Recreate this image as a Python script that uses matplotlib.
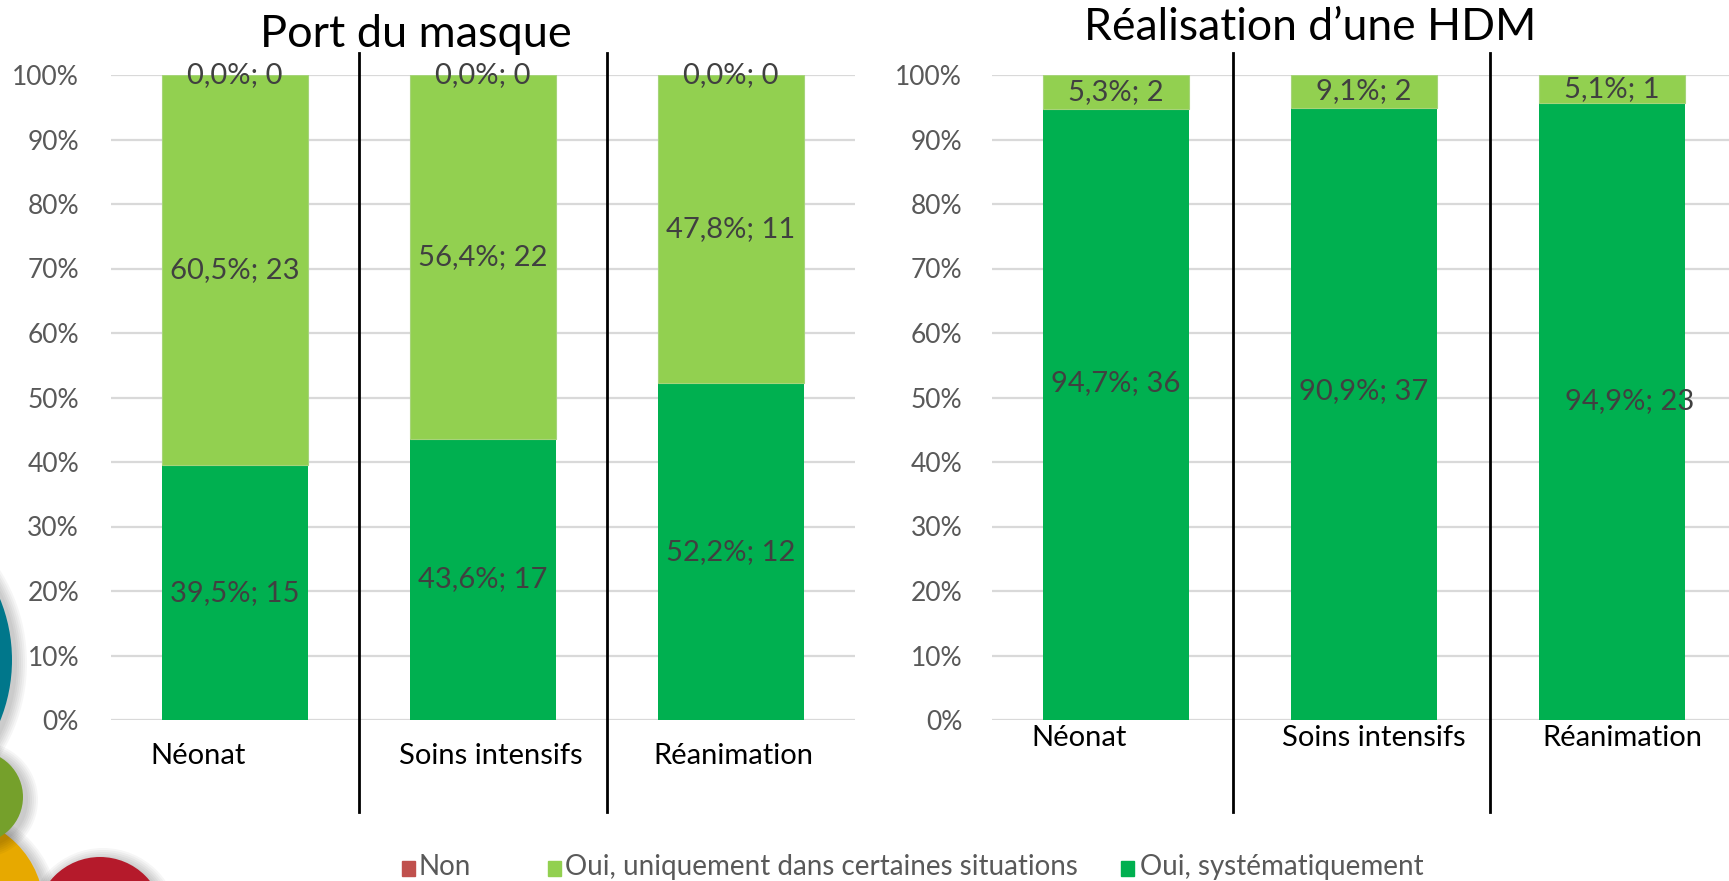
import matplotlib
matplotlib.use('Agg')
import matplotlib.pyplot as plt
from matplotlib.patches import Circle, Rectangle
import numpy as np

plt.rcParams['font.family'] = ['Lato', 'DejaVu Sans']

# ---------------- data ----------------
categories = ['Néonat', 'Soins intensifs', 'Réanimation']
series_names = ['Non', 'Oui, uniquement dans certaines situations', 'Oui, systématiquement']
series_colors = ['#C0504D', '#92D050', '#00B050']
yticks = [0, 0.1, 0.2, 0.3, 0.4, 0.5, 0.6, 0.7, 0.8, 0.9, 1.0]
ytick_labels = ['0%', '10%', '20%', '30%', '40%', '50%', '60%', '70%', '80%', '90%', '100%']

title_masque = 'Port du masque'
masque_syst = [0.395, 0.436, 0.522]
masque_situations = [0.605, 0.564, 0.478]
masque_non = [0.0, 0.0, 0.0]
masque_lbl_syst = ['39,5%; 15', '43,6%; 17', '52,2%; 12']
masque_lbl_situations = ['60,5%; 23', '56,4%; 22', '47,8%; 11']
masque_lbl_non = ['0,0%; 0', '0,0%; 0', '0,0%; 0']

title_hdm = 'Réalisation d’une HDM'
hdm_syst = [0.947, 0.949, 0.957]
hdm_situations = [0.053, 0.051, 0.043]
hdm_non = [0.0, 0.0, 0.0]
hdm_lbl_syst = ['94,7%; 36', '90,9%; 37', '94,9%; 23']
hdm_lbl_situations = ['5,3%; 2', '9,1%; 2', '5,1%; 1']

# label placement (manual positions as in the original slide)
hdm_lbl_syst_y = [0.522, 0.510, 0.495]
hdm_lbl_syst_dx = [0.0, 0.0, 0.073]
masque_cat_dx = [-0.15, 0.03, 0.01]
hdm_cat_dx = [-0.15, 0.04, 0.04]
masque_separators = [0.5, 1.5]
hdm_separators = [0.472, 1.508]

# ---------------- figure ----------------
W, H = 1729, 881
fig = plt.figure(figsize=(W / 100, H / 100), dpi=100)
fig.patch.set_facecolor('white')


def px_axes(x0, y0, x1, y1):
    return fig.add_axes([x0 / W, 1 - y1 / H, (x1 - x0) / W, (y1 - y0) / H])


LABEL_COLOR = '#404040'
TICK_COLOR = '#595959'
LBL_FS = 21
CAT_FS = 21
BAR_W = 0.59


def setup(ax, pad, seps):
    ax.set_facecolor('none')
    ax.set_xlim(-0.5, 2.5)
    ax.set_ylim(0, 1)
    ax.set_yticks(yticks)
    ax.set_yticklabels(ytick_labels)
    ax.set_xticks([])
    ax.tick_params(axis='y', length=0, pad=pad, labelsize=19, labelcolor=TICK_COLOR)
    for s in ax.spines.values():
        s.set_visible(False)
    ax.yaxis.grid(True, color='#D9D9D9', lw=1.6)
    ax.set_axisbelow(True)
    for xs in seps:
        ax.axvline(xs, ymin=-0.143, ymax=1.034, color='black', lw=2, clip_on=False, zorder=5)


x = np.arange(len(categories))

# ---- left chart: Port du masque ----
ax1 = px_axes(111, 75, 855, 720)
setup(ax1, 23, masque_separators)
ax1.bar(x, masque_syst, BAR_W, color=series_colors[2], zorder=2)
ax1.bar(x, masque_situations, BAR_W, bottom=masque_syst, color=series_colors[1],
        edgecolor='#A6D47A', lw=0.8, zorder=2)
top = np.array(masque_syst) + np.array(masque_situations)
ax1.bar(x, masque_non, BAR_W, bottom=top, color=series_colors[0], zorder=2)
for i in range(len(categories)):
    ax1.text(x[i], masque_syst[i] / 2, masque_lbl_syst[i], ha='center', va='center',
             fontsize=LBL_FS, color=LABEL_COLOR, zorder=6)
    ax1.text(x[i], masque_syst[i] + masque_situations[i] / 2, masque_lbl_situations[i],
             ha='center', va='center', fontsize=LBL_FS, color=LABEL_COLOR, zorder=6)
    ax1.text(x[i], top[i] + masque_non[i] / 2, masque_lbl_non[i], ha='center', va='center',
             fontsize=LBL_FS, color=LABEL_COLOR, zorder=6)
    ax1.text(x[i] + masque_cat_dx[i], -0.056, categories[i], ha='center', va='center',
             fontsize=CAT_FS, color='black', transform=ax1.get_xaxis_transform())

# ---- right chart: Réalisation d'une HDM ----
ax2 = px_axes(992, 75, 1736, 720)
setup(ax2, 21.5, hdm_separators)
ax2.bar(x, hdm_syst, BAR_W, color=series_colors[2], zorder=2)
ax2.bar(x, hdm_situations, BAR_W, bottom=hdm_syst, color=series_colors[1],
        edgecolor='#A6D47A', lw=0.8, zorder=2)
for i in range(len(categories)):
    ax2.text(x[i] + hdm_lbl_syst_dx[i], hdm_lbl_syst_y[i], hdm_lbl_syst[i], ha='center',
             va='center', fontsize=LBL_FS, color=LABEL_COLOR, zorder=6)
    ax2.text(x[i], hdm_syst[i] + hdm_situations[i] / 2, hdm_lbl_situations[i], ha='center',
             va='center', fontsize=LBL_FS, color=LABEL_COLOR, zorder=6)
    ax2.text(x[i] + hdm_cat_dx[i], -0.028, categories[i], ha='center', va='center',
             fontsize=CAT_FS, color='black', transform=ax2.get_xaxis_transform())

# ---- titles ----
fig.text(416 / W, 1 - 47 / H, title_masque, ha='center', va='baseline', fontsize=32.5, color='black')
fig.text(1310 / W, 1 - 40 / H, title_hdm, ha='center', va='baseline', fontsize=32, color='black')

# ---- overlay for legend + decorative circles (pixel coordinates) ----
ov = fig.add_axes([0, 0, 1, 1], zorder=10)
ov.set_xlim(0, W)
ov.set_ylim(H, 0)
ov.axis('off')
ov.patch.set_visible(False)

legend_marker_x = [402, 548, 1121]
legend_text_x = [419, 565, 1140]
for i, name in enumerate(series_names):
    ov.add_patch(Rectangle((legend_marker_x[i], 861), 13, 15, color=series_colors[i]))
    ov.text(legend_text_x[i], 875, name, ha='left', va='baseline', fontsize=20, color=TICK_COLOR)

circles = [
    ((-150, 660), 162, '#00778B'),
    ((-50, 910), 94, '#E7A900'),
    ((-23, 797), 46, '#75A02B'),
    ((100, 921), 64, '#B51A2B'),
]
for (cx, cy), r, col in circles:
    for k in range(6, 0, -1):
        ov.add_patch(Circle((cx + 3, cy + 3), r + 2 * k, color='#000000', alpha=0.035, lw=0))
    ov.add_patch(Circle((cx, cy), r, color=col, lw=0))

fig.savefig('out.png', dpi=100)
